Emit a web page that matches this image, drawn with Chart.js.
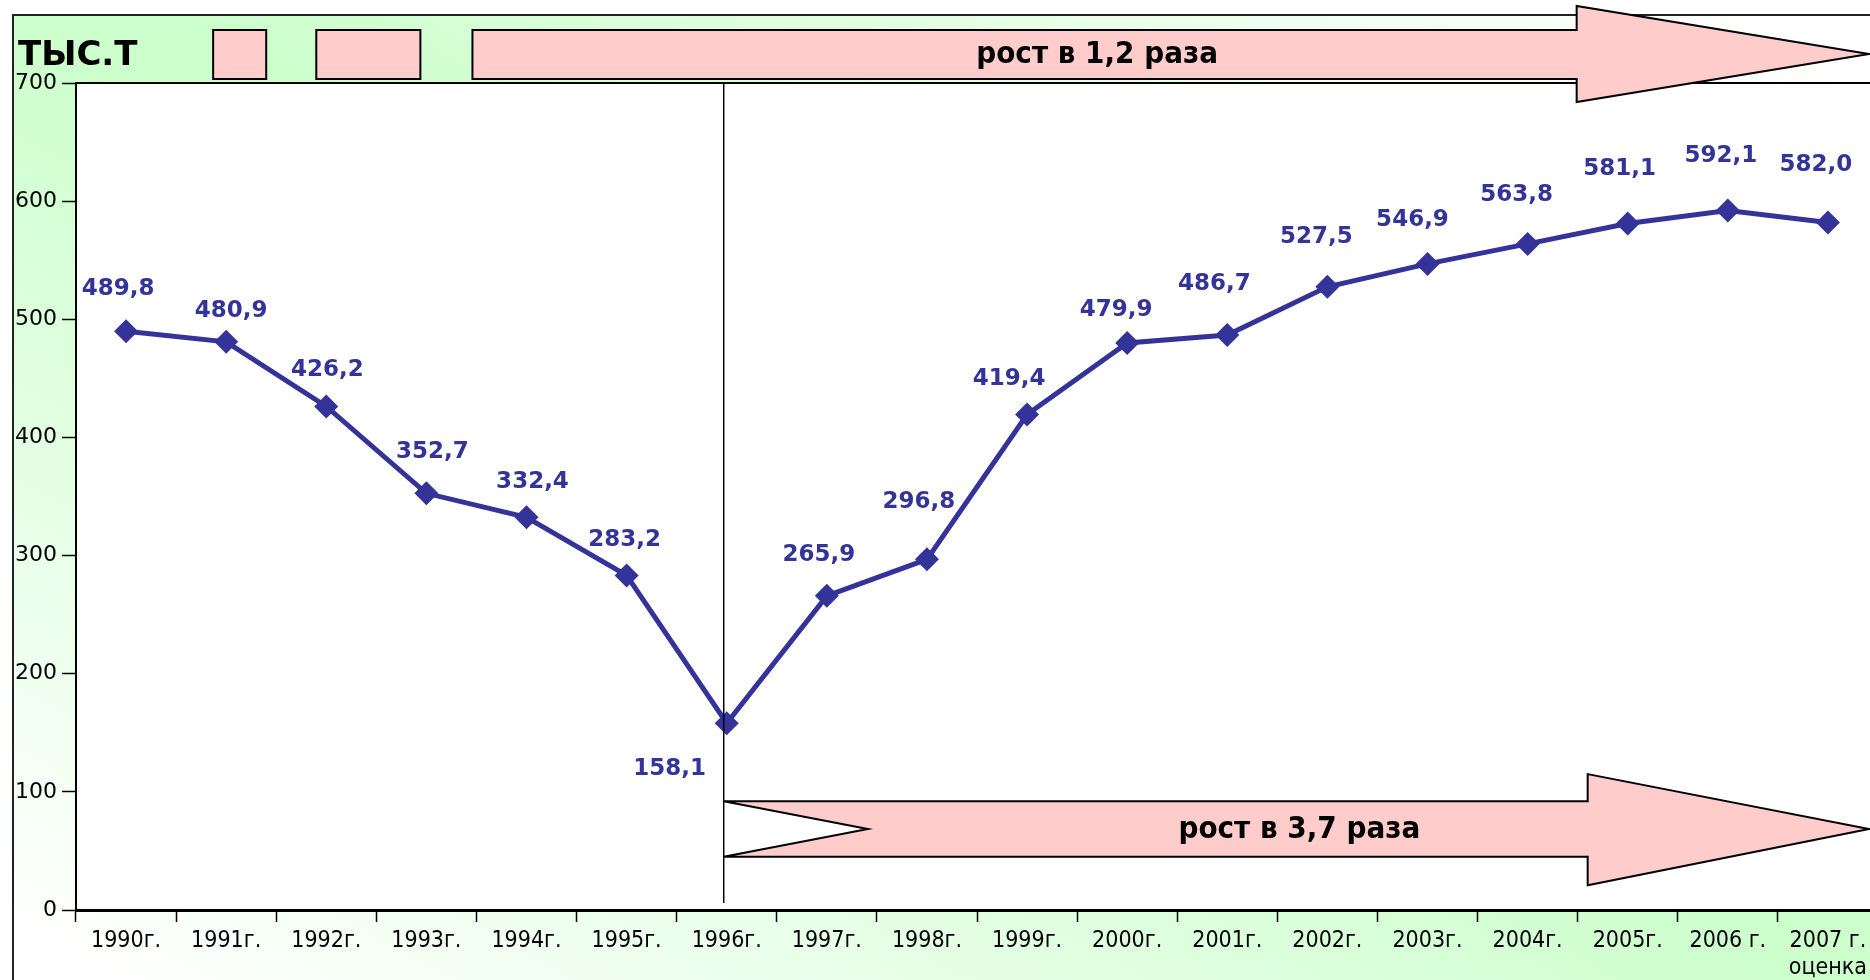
<!DOCTYPE html>
<html>
<head>
<meta charset="utf-8">
<script src="https://cdn.jsdelivr.net/npm/chart.js@4"></script>
<style>
  html, body { margin: 0; padding: 0; width: 1870px; height: 980px; overflow: hidden; background: #fff; }
  #frame {
    position: absolute; left: 12px; top: 14px; width: 1900px; height: 1000px;
    border-left: 2px solid #222; border-top: 2px solid #222;
    background: linear-gradient(to bottom left, #ffffff 4%, #ccffcc 46%, #ccffcc 50%, #ffffff 96%);
  }
  #wrap { position: absolute; left: 0; top: 0; width: 1890px; height: 980px; }
</style>
</head>
<body>
<div id="frame"></div>
<div id="wrap"><canvas id="prodChart" width="1890" height="980"></canvas></div>
<script>
	// years on the x axis, last one is an estimate
	var years = ['1990г.', '1991г.', '1992г.', '1993г.', '1994г.', '1995г.', '1996г.', '1997г.', '1998г.',
		'1999г.', '2000г.', '2001г.', '2002г.', '2003г.', '2004г.', '2005г.', '2006 г.', ['2007 г.', 'оценка']];
	var values = [489.8, 480.9, 426.2, 352.7, 332.4, 283.2, 158.1, 265.9, 296.8,
		419.4, 479.9, 486.7, 527.5, 546.9, 563.8, 581.1, 592.1, 582.0];
	var yTicks = [0, 100, 200, 300, 400, 500, 600, 700];
	var unitLabel = 'ТЫС.Т';
	var growthTexts = ['рост в 1,2 раза', 'рост в 3,7 раза'];

	// where each value label sits relative to its point (px)
	var labelShift = [[-8, -42], [5, -31], [1, -36], [6, -41], [6, -35], [-2, -35], [-57, 46], [-8, -41], [-8, -57],
		[-18, -35], [-11, -33], [-13, -51], [-11, -50], [-15, -44], [-11, -49], [-8, -54], [-7, -54], [-12, -57]];

	var navy = '#333399';
	var pink = '#ffcccc';

	function fmt(v) {
		return v.toFixed(1).replace('.', ',');
	}

	function polygon(ctx, pts) {
		ctx.beginPath();
		ctx.moveTo(pts[0][0], pts[0][1]);
		for (var i = 1; i < pts.length; i++) ctx.lineTo(pts[i][0], pts[i][1]);
		ctx.closePath();
		ctx.fillStyle = pink;
		ctx.fill();
		ctx.lineWidth = 2;
		ctx.strokeStyle = '#000';
		ctx.stroke();
	}

	const decor = {
		id: 'decor',
		beforeDraw(chart) {
			const a = chart.chartArea, ctx = chart.ctx;
			ctx.save();
			ctx.fillStyle = '#fff';
			ctx.fillRect(a.left, a.top, a.right - a.left, a.bottom - a.top);
			ctx.restore();
		},
		afterDraw(chart) {
			const a = chart.chartArea, ctx = chart.ctx;
			const xs = chart.scales.x, ys = chart.scales.y;
			const X = (i) => xs.getPixelForValue(i);
			const Y = (v) => ys.getPixelForValue(v);
			ctx.save();

			// top border of plot
			ctx.strokeStyle = '#000';
			ctx.lineWidth = 2;
			ctx.beginPath();
			ctx.moveTo(a.left, a.top);
			ctx.lineTo(chart.width, a.top);
			ctx.stroke();

			// divider at 1996
			ctx.lineWidth = 1.5;
			ctx.beginPath();
			ctx.moveTo(X(6) - 3, a.top);
			ctx.lineTo(X(6) - 3, a.bottom - 7);
			ctx.stroke();

			// unit label
			ctx.fillStyle = '#000';
			ctx.font = 'bold 34px "DejaVu Sans"';
			ctx.textAlign = 'left';
			ctx.textBaseline = 'middle';
			ctx.fillText(unitLabel, 18, a.top - 27);

			// header boxes
			var top = a.top;
			[[0.87, 1.40], [1.90, 2.94]].forEach(function (b) {
				polygon(ctx, [[X(b[0]), top - 53], [X(b[1]), top - 53], [X(b[1]), top - 4], [X(b[0]), top - 4]]);
			});

			// upper arrow
			var x0 = X(3.46), xh = X(14.49), xt = X(17.41);
			polygon(ctx, [[x0, top - 53], [xh, top - 53], [xh, top - 77], [xt, top - 29], [xh, top + 19],
				[xh, top - 4], [x0, top - 4]]);
			ctx.fillStyle = '#000';
			ctx.font = 'bold 31px "DejaVu Sans Condensed", "DejaVu Sans"';
			ctx.textAlign = 'center';
			ctx.fillText(growthTexts[0], X(9.7), top - 28);

			// lower arrow from 1996
			var l0 = X(6) - 3, ln = X(7.41), lh = X(14.6), lt = X(17.41);
			polygon(ctx, [[l0, Y(92)], [lh, Y(92)], [lh, Y(115)], [lt, Y(68.5)], [lh, Y(21)],
				[lh, Y(45)], [l0, Y(45)], [ln, Y(68.5)]]);
			ctx.fillStyle = '#000';
			ctx.fillText(growthTexts[1], X(11.72), Y(68.5) + 1);

			// value labels
			var meta = chart.getDatasetMeta(0);
			ctx.fillStyle = navy;
			ctx.font = 'bold 23px "DejaVu Sans"';
			meta.data.forEach(function (pt, i) {
				ctx.fillText(fmt(values[i]), pt.x + labelShift[i][0], pt.y + labelShift[i][1]);
			});
			ctx.restore();
		}
	};

	var ctx = document.getElementById('prodChart').getContext('2d');
	var myChart = new Chart(ctx, {
		type: 'line',
		data: {
			labels: years,
			datasets: [{
				data: values,
				borderColor: navy,
				backgroundColor: navy,
				borderWidth: 5,
				pointStyle: 'rectRot',
				pointRadius: 12,
				pointBorderWidth: 0,
				tension: 0
			}]
		},
		options: {
			responsive: false,
			animation: false,
			devicePixelRatio: 1,
			layout: { padding: { top: 83, left: 0, right: 0, bottom: 0 } },
			plugins: {
				legend: { display: false },
				tooltip: { enabled: false }
			},
			scales: {
				x: {
					offset: true,
					grid: { display: true, drawOnChartArea: false, offset: true, tickLength: 12, color: '#000', tickWidth: 1.5 },
					border: { color: '#000', width: 3 },
					ticks: {
						color: '#000', padding: 5, maxRotation: 0, autoSkip: false,
						font: { family: '"DejaVu Sans Condensed", "DejaVu Sans"', size: 23 }
					},
					afterFit: function (s) { s.height = 70; }
				},
				y: {
					min: 0,
					max: 700,
					afterBuildTicks: function (s) { s.ticks = yTicks.map(function (v) { return { value: v }; }); },
					grid: { display: true, drawOnChartArea: false, tickLength: 14, color: '#000', tickWidth: 1.5 },
					border: { color: '#000', width: 2 },
					ticks: {
						color: '#000', padding: 5,
						font: { family: '"DejaVu Sans"', size: 22 }
					},
					afterFit: function (s) { s.width = 76; }
				}
			}
		},
		plugins: [decor]
	});
</script>
</body>
</html>
